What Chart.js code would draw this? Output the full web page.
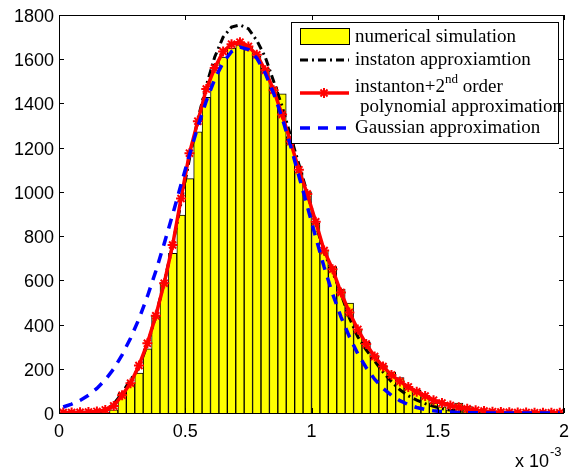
<!DOCTYPE html>
<html>
<head>
<meta charset="utf-8">
<script src="https://cdn.jsdelivr.net/npm/chart.js@4.4.1/dist/chart.umd.min.js"></script>
<style>
  body { margin: 0; background: #fff; }
</style>
</head>
<body>
<canvas id="myChart" width="572" height="468"></canvas>
<script>
// bin centres, in units of 1e-3
const binCenters = [0.0167,0.05,0.0833,0.1167,0.15,0.1833,0.2167,0.25,0.2833,0.3167,
  0.35,0.3833,0.4167,0.45,0.4833,0.5167,0.55,0.5833,0.6167,0.65,
  0.6833,0.7167,0.75,0.7833,0.8167,0.85,0.8833,0.9167,0.95,0.9833,
  1.0167,1.05,1.0833,1.1167,1.15,1.1833,1.2167,1.25,1.2833,1.3167,
  1.35,1.3833,1.4167,1.45,1.4833,1.5167,1.55,1.5833,1.6167,1.65,
  1.6833,1.7167,1.75,1.7833,1.8167,1.85,1.8833,1.9167,1.95,1.9833];

const simulation = [0,0,0,0,1,4,14,90,134,180,
  290,440,590,722,895,1060,1272,1428,1551,1610,
  1650,1665,1660,1615,1560,1475,1443,1250,1091,1000,
  860,737,662,560,497,380,320,260,215,185,
  160,115,104,80,45,28,14,45,30,8,
  4,2,1,0,0,0,0,0,0,0];

const instanton = [0,0,0,1,3,15,40,90,150,205,
  310,440,590,760,950,1150,1330,1480,1610,1700,
  1745,1755,1738,1685,1610,1500,1388,1255,1125,995,
  858,725,640,540,430,345,285,235,185,142,
  105,78,58,42,30,20,13,8,5,3,
  2,1,1,0,0,0,0,0,0,0];

const instanton2nd = [2,2,3,4,7,14,32,80,135,215,
  315,440,587,760,970,1175,1320,1465,1560,1635,
  1668,1677,1658,1620,1550,1460,1350,1228,1100,990,
  865,735,650,545,455,378,312,255,210,172,
  143,118,96,77,58,45,34,26,19,13,
  9,6,4,3,2,2,1,1,1,1];

const gaussian = [27,40,57,80,111,150,200,263,338,425,
  527,641,766,897,1033,1167,1295,1411,1510,1585,
  1634,1655,1644,1605,1537,1446,1336,1210,1072,935,
  795,660,540,435,345,268,205,153,112,80,
  56,38,25,16,10,6,4,2,1,1,
  0,0,0,0,0,0,0,0,0,0];

const xTicks = [0, 0.5, 1, 1.5, 2];
const yTicks = [0,200,400,600,800,1000,1200,1400,1600,1800];

function pts(ys) {
  return binCenters.map((x, i) => ({x: x, y: ys[i]}));
}

const boxAndTicks = {
  id: 'boxAndTicks',
  afterDatasetsDraw(chart) {
    const ctx = chart.ctx, a = chart.chartArea;
    const xs = chart.scales.x, ys = chart.scales.y;
    ctx.save();
    ctx.strokeStyle = '#000';
    ctx.lineWidth = 1;
    ctx.setLineDash([]);
    ctx.beginPath();
    xTicks.forEach(v => {
      const p = Math.round(xs.getPixelForValue(v)) + 0.5;
      ctx.moveTo(p, a.bottom); ctx.lineTo(p, a.bottom - 5);
      ctx.moveTo(p, a.top); ctx.lineTo(p, a.top + 5);
    });
    yTicks.forEach(v => {
      const p = Math.round(ys.getPixelForValue(v)) + 0.5;
      ctx.moveTo(a.left, p); ctx.lineTo(a.left + 5, p);
      ctx.moveTo(a.right, p); ctx.lineTo(a.right - 5, p);
    });
    ctx.stroke();
    ctx.strokeRect(a.left + 0.5, a.top + 0.5, a.right - a.left - 1, a.bottom - a.top);
    ctx.restore();
  },
  afterDraw(chart) {
    const ctx = chart.ctx;
    ctx.save();
    // legend box
    ctx.fillStyle = '#fff';
    ctx.fillRect(291, 22, 267, 121);
    ctx.strokeStyle = '#000';
    ctx.lineWidth = 1;
    ctx.strokeRect(291.5, 22.5, 267, 121);

    ctx.fillStyle = '#ffff00';
    ctx.fillRect(300, 28, 49, 16);
    ctx.strokeRect(300.5, 28.5, 49, 16);

    ctx.lineWidth = 3;
    ctx.setLineDash([8, 4, 2, 4]);
    ctx.beginPath(); ctx.moveTo(300, 60); ctx.lineTo(349, 60); ctx.stroke();

    ctx.setLineDash([]);
    ctx.strokeStyle = '#ff0000';
    ctx.lineWidth = 3.5;
    ctx.beginPath(); ctx.moveTo(300, 93); ctx.lineTo(349, 93); ctx.stroke();
    ctx.lineWidth = 2;
    Chart.helpers.drawPoint(ctx, {pointStyle: 'star', radius: 5, borderWidth: 2}, 324, 93);

    ctx.strokeStyle = '#0000ff';
    ctx.lineWidth = 3.5;
    ctx.setLineDash([10, 8]);
    ctx.beginPath(); ctx.moveTo(300, 128); ctx.lineTo(349, 128); ctx.stroke();
    ctx.setLineDash([]);

    ctx.fillStyle = '#000';
    ctx.textBaseline = 'middle';
    ctx.font = '19px "Liberation Serif"';
    ctx.fillText('numerical simulation', 355, 37);
    ctx.fillText('instaton approxiamtion', 355, 60);
    ctx.fillText('instanton+2', 355, 87);
    let w = ctx.measureText('instanton+2').width;
    ctx.font = '13px "Liberation Serif"';
    ctx.fillText('nd', 355 + w, 80);
    const w2 = ctx.measureText('nd').width;
    ctx.font = '19px "Liberation Serif"';
    ctx.fillText(' order', 355 + w + w2, 87);
    ctx.fillText('polynomial approximation', 360, 107);
    ctx.fillText('Gaussian approximation', 355, 128);

    // axis exponent
    ctx.textBaseline = 'alphabetic';
    ctx.font = '18px "Liberation Sans"';
    ctx.fillText('x 10', 515, 467);
    w = ctx.measureText('x 10').width;
    ctx.font = '13px "Liberation Sans"';
    ctx.fillText('-3', 515 + w + 1, 456);
    ctx.restore();
  }
};

const data = {
  datasets: [{
    type: 'line',
    label: 'Gaussian approximation',
    data: pts(gaussian),
    borderColor: '#0000ff',
    borderWidth: 3.5,
    borderDash: [10, 8],
    pointRadius: 0,
    fill: false,
    order: 0
  }, {
    type: 'line',
    label: 'instanton+2nd order polynomial approximation',
    data: pts(instanton2nd),
    borderColor: '#ff0000',
    borderWidth: 3.5,
    pointStyle: 'star',
    pointRadius: 5,
    pointBorderColor: '#ff0000',
    pointBorderWidth: 2,
    fill: false,
    order: 1
  }, {
    type: 'line',
    label: 'instaton approxiamtion',
    data: pts(instanton),
    borderColor: '#000000',
    borderWidth: 3,
    borderDash: [8, 4, 2, 4],
    pointRadius: 0,
    fill: false,
    order: 2
  }, {
    type: 'bar',
    label: 'numerical simulation',
    data: pts(simulation),
    backgroundColor: '#ffff00',
    borderColor: '#000000',
    borderWidth: 1,
    barPercentage: 1,
    categoryPercentage: 1,
    order: 3
  }]
};

new Chart('myChart', {
  type: 'bar',
  data: data,
  options: {
    responsive: false,
    animation: false,
    devicePixelRatio: 1,
    layout: { padding: { top: 15, right: 8, left: 0, bottom: 0 } },
    plugins: { legend: { display: false }, tooltip: { enabled: false } },
    scales: {
      x: {
        type: 'linear',
        min: 0, max: 2,
        offset: false,
        grid: { display: false, drawTicks: false },
        border: { display: false },
        ticks: { stepSize: 0.5, padding: 8, color: '#000', font: { family: 'Liberation Sans', size: 18 }, maxRotation: 0,
          callback: v => String(v) },
        afterFit(s) { s.height = 55; s.paddingLeft = 0; s.paddingRight = 0; }
      },
      y: {
        min: 0, max: 1800,
        grid: { display: false, drawTicks: false },
        border: { display: false },
        ticks: { stepSize: 200, padding: 5, labelOffset: 2, color: '#000', font: { family: 'Liberation Sans', size: 18 },
          callback: v => String(v) },
        afterFit(s) { s.width = 59; s.paddingTop = 0; s.paddingBottom = 0; }
      }
    }
  },
  plugins: [boxAndTicks]
});
</script>
</body>
</html>
